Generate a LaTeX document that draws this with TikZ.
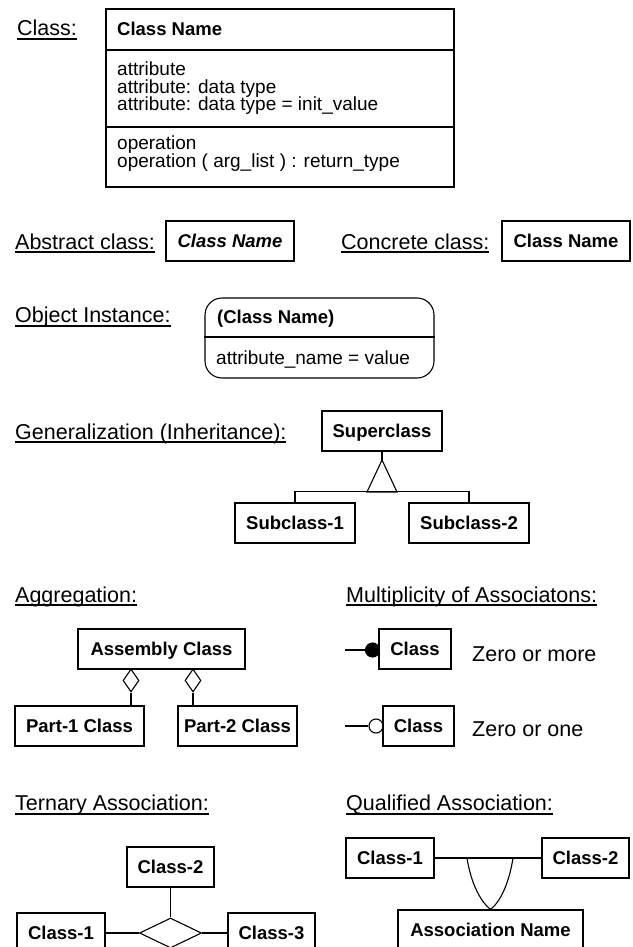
\documentclass[tikz,border=0pt]{standalone}
\usepackage{fontspec}
\setmainfont{Liberation Sans}
\usetikzlibrary{shapes.geometric}

% font sizes for section labels, class names and member text
\newcommand{\lblfont}{\fontsize{21.5pt}{24pt}\selectfont}
\newcommand{\namefont}{\fontsize{18.5pt}{20pt}\selectfont\bfseries}
\newcommand{\bodyfont}{\fontsize{19pt}{17.5pt}\selectfont}
% underlined section label with a heavy rule
\newcommand{\ulabeltext}[1]{\setbox0=\hbox{#1}\rlap{\rule[-4pt]{\wd0}{1.6pt}}\box0}

\tikzset{
  lbl/.style={anchor=base west, inner sep=0pt, font=\lblfont},
  note/.style={anchor=base west, inner sep=0pt, font=\lblfont},
  cls/.style={draw, line width=1.1pt, fill=white, font=\namefont, inner sep=0pt,
              text height=13.3pt, text depth=0pt, minimum height=40pt},
  frame/.style={draw, line width=1.1pt, fill=white, inner sep=0pt},
  hdr/.style={anchor=base west, inner sep=0pt, font=\namefont},
  txt/.style={anchor=base west, inner sep=0pt, font=\bodyfont},
  conn/.style={line width=1.1pt},
  agg/.style={diamond, draw, line width=1.1pt, fill=white, inner sep=0pt},
  multdot/.style={circle, draw, line width=1.1pt, inner sep=0pt, minimum size=14pt},
}

\begin{document}
\begin{tikzpicture}[x=1pt,y=-1pt]
\useasboundingbox (0,0) rectangle (632,947);

% ---------- Class ----------
\node[lbl] (lclass) at (17,36) {\ulabeltext{Class:}};
\node[frame, minimum width=348pt, minimum height=178pt] (classbox) at (280,98) {};
\coordinate (div1) at (0,50);
\coordinate (div2) at (0,127);
\draw[conn] (classbox.west |- div1) -- (classbox.east |- div1);
\draw[conn] (classbox.west |- div2) -- (classbox.east |- div2);
\node[hdr] (cname) at (117,36) {Class Name};
\node[txt] (attr1) at (117,76) {attribute};
\node[txt] (attr2) at (117,93.5) {attribute: data type};
\node[txt] (attr3) at (117,111) {attribute: data type = init\_value};
\node[txt] (op1) at (117,149.5) {operation};
\node[txt] (op2) at (117,167.5) {operation ( arg\_list ) : return\_type};

% ---------- Abstract / concrete ----------
\node[lbl] (labs) at (15,249) {\ulabeltext{Abstract class:}};
\node[cls, minimum width=128pt] (absbox) at (230,241) {\itshape Class Name};
\node[lbl] (lcon) at (341,249) {\ulabeltext{Concrete class:}};
\node[cls, minimum width=128pt] (conbox) at (566,241) {Class Name};

% ---------- Object instance ----------
\node[lbl] (lobj) at (15,322.5) {\ulabeltext{Object Instance:}};
\node[frame, rounded corners=17pt, minimum width=229pt, minimum height=80pt] (objbox) at (319.5,338) {};
\coordinate (div3) at (0,337);
\draw[conn] (objbox.west |- div3) -- (objbox.east |- div3);
\node[hdr] (objname) at (217,323.5) {(Class Name)};
\node[txt] (objattr) at (216,364) {attribute\_name = value};

% ---------- Generalization ----------
\node[lbl] (lgen) at (15,439) {\ulabeltext{Generalization (Inheritance):}};
\node[cls, minimum width=120pt] (super) at (382,431) {Superclass};
\node[cls, minimum width=120pt] (sub1) at (295,523) {Subclass-1};
\node[cls, minimum width=120pt] (sub2) at (469,523) {Subclass-2};
\coordinate (apex) at (382,460);
\coordinate (tril) at (367,492);
\coordinate (trir) at (397,492);
\draw[conn] (super.south) -- (apex);
\draw[conn, line join=miter] (apex) -- (tril) -- (trir) -- cycle;
\draw[conn] (sub1.north) -- ++(0,-11) -| (sub2.north);

% ---------- Aggregation ----------
\node[lbl] (lagg) at (15,602) {\ulabeltext{Aggregation:}};
\node[cls, minimum width=167pt] (assembly) at (161.5,649) {Assembly Class};
\node[cls, minimum width=129pt] (part1) at (79.5,726) {Part-1 Class};
\node[cls, minimum width=119pt] (part2) at (237.5,726) {Part-2 Class};
\node[agg, minimum width=16pt, minimum height=23pt] (d1) at (131,680.5) {};
\node[agg, minimum width=16pt, minimum height=23pt] (d2) at (193,680.5) {};
\draw[conn] (d1.south) -- (d1.south |- part1.north);
\draw[conn] (d2.south) -- (d2.south |- part2.north);

% ---------- Multiplicity ----------
\node[lbl] (lmult) at (346,602) {\ulabeltext{Multiplicity of Associatons:}};
\coordinate (m1start) at (345,650);
\coordinate (m2start) at (345,726);
\node[multdot, fill=black] (c1) at (372.5,650) {};
\node[multdot, fill=white] (c2) at (376,726) {};
\draw[conn] (m1start) -- (c1.west);
\draw[conn] (m2start) -- (c2.west);
\node[cls, minimum width=72pt] (m1) at (415,649) {Class};
\node[cls, minimum width=71pt] (m2) at (418.5,726) {Class};
\node[note] (zmore) at (472,661) {Zero or more};
\node[note] (zone) at (472,736) {Zero or one};

% ---------- Ternary association ----------
\node[lbl] (lter) at (15,810.5) {\ulabeltext{Ternary Association:}};
\node[cls, minimum width=87pt] (t2) at (170.5,867) {Class-2};
\node[cls, minimum width=88pt] (t1) at (61,933) {Class-1};
\node[cls, minimum width=87pt] (t3) at (271.5,933) {Class-3};
\node[agg, minimum width=62pt, minimum height=30pt] (tdia) at (170.5,933) {};
\draw[conn] (t2.south) -- (tdia.north);
\draw[conn] (t1.east) -- (tdia.west);
\draw[conn] (tdia.east) -- (t3.west);

% ---------- Qualified association ----------
\node[lbl] (lqual) at (346,810.5) {\ulabeltext{Qualified Association:}};
\node[cls, minimum width=88pt] (q1) at (390,858) {Class-1};
\node[cls, minimum width=87pt] (q2) at (585.5,858) {Class-2};
\node[cls, minimum width=185pt] (assoc) at (490.5,930) {Association Name};
\draw[conn] (q1.east) -- (q2.west);
\coordinate (qa) at (467,858);
\coordinate (qb) at (513,858);
\draw[conn] (qa) .. controls (471,884) and (481,902) .. (assoc.north)
            .. controls (500,902) and (509,884) .. (qb);

\end{tikzpicture}
\end{document}
